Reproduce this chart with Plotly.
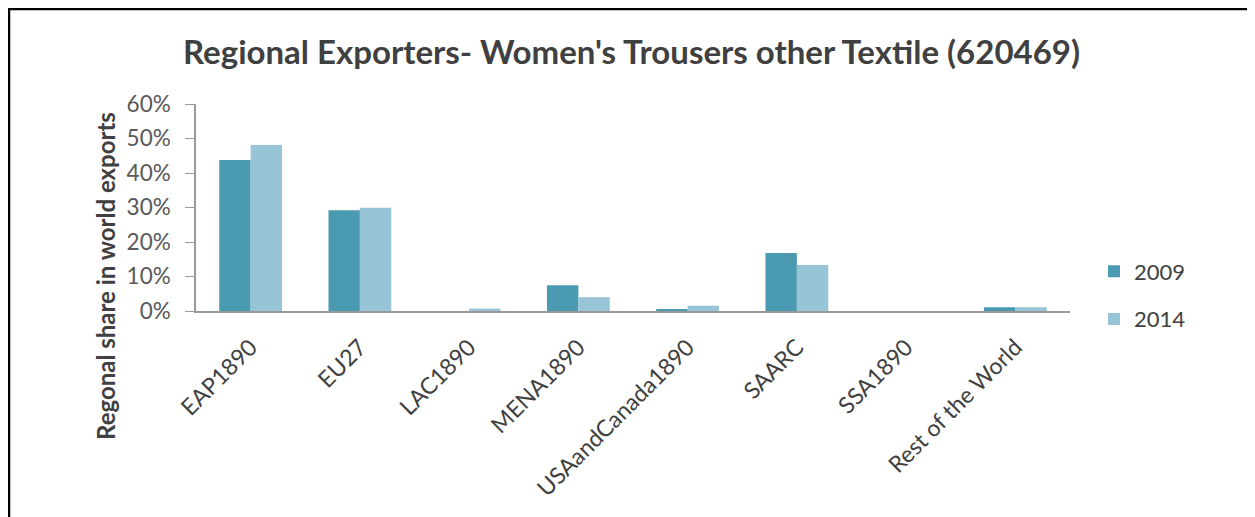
import plotly.graph_objects as go

categories = ["EAP1890", "EU27", "LAC1890", "MENA1890", "USAandCanada1890",
              "SAARC", "SSA1890", "Rest of the World"]
share_2009 = [0.438, 0.292, 0.0, 0.075, 0.004, 0.168, 0.0, 0.011]
share_2014 = [0.481, 0.299, 0.007, 0.040, 0.015, 0.133, 0.0, 0.011]
series_names = ["2009", "2014"]
tick_vals = [0, 0.1, 0.2, 0.3, 0.4, 0.5, 0.6]
tick_text = ["0%", "10%", "20%", "30%", "40%", "50%", "60%"]

colors = ["#4A9AB1", "#97C4D6"]
font_family = "Lato, 'Open Sans', sans-serif"

# figure is drawn with an 8px page margin, so size it to fit the window
W, H = 1247, 509
L, T, R, B = 188, 96, 185, 206
PW, PH = W - L - R, H - T - B


def px(xf):
    return (xf - L) / PW


def py(yf):
    return (H - B - yf) / PH


fig = go.Figure()
for name, vals, col in zip(series_names, [share_2009, share_2014], colors):
    fig.add_trace(go.Bar(x=categories, y=vals, name=name, legendgroup=name,
                         marker=dict(color=col, line=dict(width=0))))

fig.update_layout(
    width=W, height=H,
    paper_bgcolor="white", plot_bgcolor="white",
    margin=dict(l=L, r=R, t=T, b=B, autoexpand=False),
    barmode="group", bargap=0.425, bargroupgap=0,
    title=dict(text="<b>Regional Exporters- Women's Trousers other Textile (620469)</b>",
               x=0.5, xanchor="center", xref="container",
               y=1 - 44 / H, yanchor="middle", yref="container",
               font=dict(family=font_family, size=33, color="#404040")),
    font=dict(family=font_family, color="#595959"),
    legend=dict(x=px(1086), xanchor="left", y=py(287.5), yanchor="middle",
                font=dict(size=22, color="#404040"), tracegroupgap=16,
                itemwidth=30),
    showlegend=True,
)
fig.update_xaxes(showline=True, linecolor="#999999", linewidth=1.5,
                 ticks="", tickangle=-45, tickfont=dict(size=23, color="#404040"),
                 ticklabelstandoff=12, showgrid=False)
fig.update_yaxes(range=[0, 0.6], tickvals=tick_vals, ticktext=tick_text,
                 showline=True, linecolor="#999999", linewidth=1.5,
                 ticks="outside", ticklen=9, tickcolor="#999999",
                 ticklabelstandoff=10,
                 tickfont=dict(size=22.5, color="#595959"), showgrid=False,
                 zeroline=False)

fig.add_annotation(text="<b>Regonal share in world exports</b>",
                   xref="paper", yref="paper", x=px(97), y=py(268),
                   xanchor="center", yanchor="middle", textangle=-90,
                   showarrow=False, font=dict(size=24, color="#404040"))

# frame lines (top and left) as in the reference
fig.add_shape(type="line", xref="paper", yref="paper", x0=px(0), x1=px(W),
              y0=py(1), y1=py(1), line=dict(color="black", width=2.5))
fig.add_shape(type="line", xref="paper", yref="paper", x0=px(1), x1=px(1),
              y0=py(0), y1=py(H), line=dict(color="black", width=2.5))

fig.write_html("out.html")
